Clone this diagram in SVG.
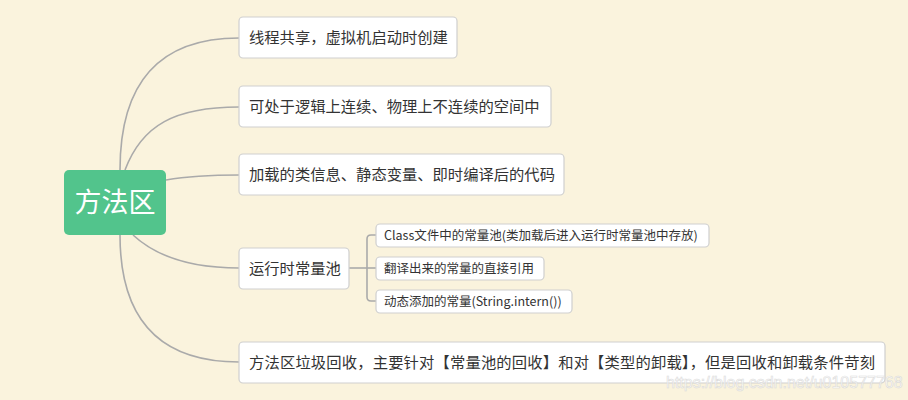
<svg xmlns="http://www.w3.org/2000/svg" width="908" height="400" viewBox="0 0 908 400">
<style>
.bg{fill:#faf3dd}
.box{fill:#ffffff;stroke:#cfcfcf;stroke-width:1.2}
.t{font-family:"Microsoft YaHei","Noto Sans CJK SC","Liberation Sans",sans-serif;fill:#333333}
.t1{font-size:15.3px}
.t2{font-size:12.5px}
.root{fill:#52c48c}
.rt{font-family:"Noto Sans CJK SC","Liberation Sans",sans-serif;font-size:27px;fill:#ffffff}
.c{fill:none;stroke:#aaaaaa;stroke-width:1.6}
.wm{font-family:"Liberation Sans",Arial,sans-serif;font-size:16px;fill:#ffffff;stroke:#d6d6d6;stroke-width:0.6;opacity:0.85}
</style>
<rect class="bg" x="0" y="0" width="908" height="400"/>
<g id="connectors">
<path class="c" d="M120,170 Q120,38 239,38"/>
<path class="c" d="M125,170 C142,125 175,107 239,107"/>
<path class="c" d="M166,180 Q195,175 239,175"/>
<path class="c" d="M133,235 C160,260 200,268 239,268"/>
<path class="c" d="M120,235 Q120,362 239,362"/>
<path class="c" d="M349,268 L376,268"/>
<path class="c" d="M376,235 L371,235 Q367,235 367,239 L367,297 Q367,301 371,301 L376,301"/>
</g>
<g id="root">
<rect class="root" x="64" y="170" width="102" height="65" rx="5"/>
<text class="rt" x="115" y="212" text-anchor="middle">方法区</text>
</g>
<g id="n1">
<rect class="box" x="239" y="17" width="218" height="41" rx="4"/>
<text class="t t1" x="249" y="43">线程共享，虚拟机启动时创建</text>
</g>
<g id="n2">
<rect class="box" x="239" y="86" width="312" height="41" rx="4"/>
<text class="t t1" x="249" y="112">可处于逻辑上连续、物理上不连续的空间中</text>
</g>
<g id="n3">
<rect class="box" x="239" y="154" width="325" height="41" rx="4"/>
<text class="t t1" x="249" y="180">加载的类信息、静态变量、即时编译后的代码</text>
</g>
<g id="n4">
<rect class="box" x="239" y="248" width="110" height="41" rx="4"/>
<text class="t t1" x="249" y="274">运行时常量池</text>
</g>
<g id="n4a">
<rect class="box" x="376" y="224" width="333" height="23" rx="4"/>
<text class="t t2" x="384" y="240">Class文件中的常量池(类加载后进入运行时常量池中存放)</text>
</g>
<g id="n4b">
<rect class="box" x="376" y="257" width="168" height="23" rx="4"/>
<text class="t t2" x="384" y="273">翻译出来的常量的直接引用</text>
</g>
<g id="n4c">
<rect class="box" x="376" y="290" width="196" height="23" rx="4"/>
<text class="t t2" x="384" y="306">动态添加的常量(String.intern())</text>
</g>
<g id="n5">
<rect class="box" x="239" y="342" width="646" height="41" rx="4"/>
<text class="t t1" x="249" y="368" textLength="626">方法区垃圾回收，主要针对【常量池的回收】和对【类型的卸载】，但是回收和卸载条件苛刻</text>
</g>
<text class="wm" x="666" y="388">https://blog.csdn.net/u010577768</text>
</svg>
